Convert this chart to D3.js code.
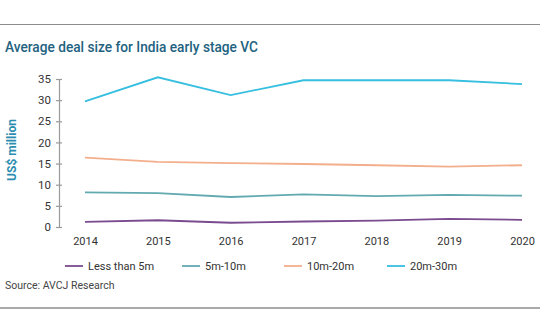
<!DOCTYPE html>
<html>
<head>
<meta charset="utf-8">
<script src="https://cdn.jsdelivr.net/npm/d3@7"></script>
<style>
  body { margin: 0; background: #fff; }
  svg { display: block; font-family: Roboto, "Noto Sans", sans-serif; }
</style>
</head>
<body>
<div id="viz"></div>
<script>
var years = ['2014', '2015', '2016', '2017', '2018', '2019', '2020'];
var seriesNames = ['Less than 5m', '5m-10m', '10m-20m', '20m-30m'];
var seriesColors = ['#7a4b8f', '#62aab0', '#f3ae8c', '#37bfe0'];
var lessThan5 = [1.2, 1.6, 1.0, 1.3, 1.5, 1.9, 1.7];
var from5to10 = [8.2, 8.0, 7.1, 7.7, 7.3, 7.6, 7.4];
var from10to20 = [16.4, 15.4, 15.1, 14.9, 14.6, 14.3, 14.6];
var from20to30 = [29.7, 35.4, 31.2, 34.7, 34.7, 34.7, 33.8];
var yTicks = [0, 5, 10, 15, 20, 25, 30, 35];

var seriesValues = [lessThan5, from5to10, from10to20, from20to30];

var width = 540, height = 334;

var svg = d3.select('#viz').append('svg')
  .attr('width', width)
  .attr('height', height);

// frame lines top and bottom
svg.append('line').attr('x1', 0).attr('x2', width).attr('y1', 24.5).attr('y2', 24.5)
  .attr('stroke', '#8c8c8c').attr('stroke-width', 1.2);
svg.append('line').attr('x1', 0).attr('x2', width).attr('y1', 308).attr('y2', 308)
  .attr('stroke', '#8c8c8c').attr('stroke-width', 1.5);

svg.append('text')
  .attr('x', 5).attr('y', 52)
  .attr('fill', '#22627f')
  .attr('font-size', 14.5)
  .attr('font-weight', 500)
  .attr('textLength', 253)
  .attr('lengthAdjust', 'spacingAndGlyphs')
  .text('Average deal size for India early stage VC');

var x = d3.scalePoint().domain(years).range([85, 522]);
var y = d3.scaleLinear().domain([0, 35]).range([227, 79]);

// y axis
var yAxis = svg.append('g')
  .attr('transform', 'translate(59,0)')
  .call(d3.axisLeft(y).tickValues(yTicks).tickSize(0).tickPadding(8));
yAxis.select('.domain').attr('stroke', '#9a9a9a').attr('stroke-width', 1.2);
yAxis.selectAll('.tick line').remove();
yAxis.selectAll('.tick').append('line')
  .attr('x1', -3).attr('x2', 3)
  .attr('stroke', '#9a9a9a').attr('stroke-width', 1.2);
yAxis.selectAll('.tick text')
  .attr('fill', '#333').attr('font-size', 11.5).attr('font-family', 'Roboto, sans-serif');

svg.append('text')
  .attr('transform', 'translate(16,150) rotate(-90)')
  .attr('text-anchor', 'middle')
  .attr('fill', '#2b8db0')
  .attr('font-size', 12)
  .attr('font-weight', 700)
  .text('US$ million');

// x axis labels
var xAxis = svg.append('g')
  .attr('transform', 'translate(0,233)')
  .call(d3.axisBottom(x).tickSize(0).tickPadding(4));
xAxis.select('.domain').remove();
xAxis.selectAll('.tick text')
  .attr('fill', '#333').attr('font-size', 11).attr('font-family', 'Roboto, sans-serif');

var line = d3.line()
  .x(function (d, i) { return x(years[i]); })
  .y(function (d) { return y(d); });

svg.append('g').selectAll('path')
  .data(seriesValues)
  .enter().append('path')
  .attr('d', line)
  .attr('fill', 'none')
  .attr('stroke', function (d, i) { return seriesColors[i]; })
  .attr('stroke-width', 1.8);

// legend
var legendX = [65, 182, 284, 387];
var legend = svg.append('g').selectAll('g')
  .data(seriesNames)
  .enter().append('g')
  .attr('transform', function (d, i) { return 'translate(' + legendX[i] + ',266)'; });
legend.append('line')
  .attr('x1', 0).attr('x2', 18)
  .attr('stroke', function (d, i) { return seriesColors[i]; })
  .attr('stroke-width', 1.8);
legend.append('text')
  .attr('x', 23).attr('dy', '0.35em')
  .attr('fill', '#333').attr('font-size', 11)
  .text(function (d) { return d; });

svg.append('text')
  .attr('x', 5).attr('y', 289)
  .attr('fill', '#444').attr('font-size', 10.5)
  .text('Source: AVCJ Research');
</script>
</body>
</html>
